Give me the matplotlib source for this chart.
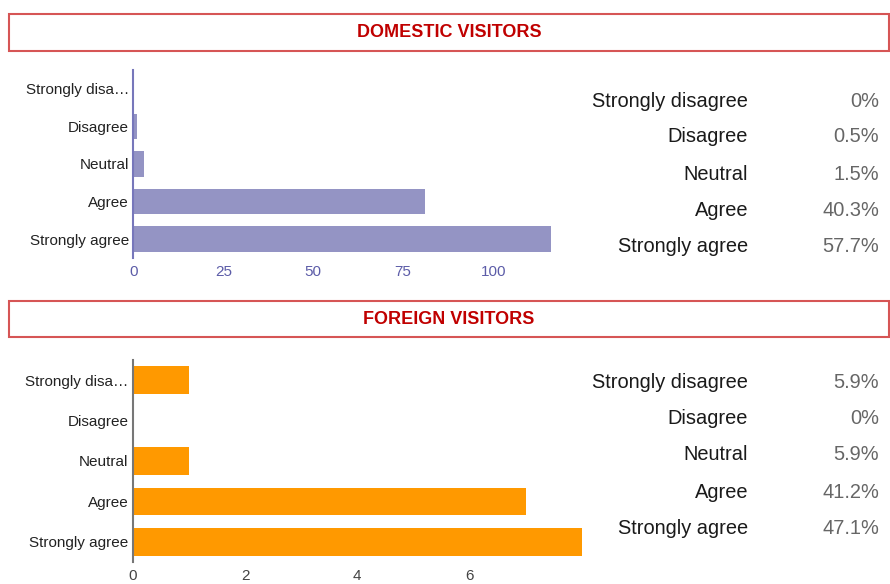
import matplotlib
matplotlib.use("Agg")
import matplotlib.pyplot as plt
from matplotlib.patches import Rectangle

categories = ["Strongly disagree", "Disagree", "Neutral", "Agree", "Strongly agree"]
tick_labels = ["Strongly disa\u2026", "Disagree", "Neutral", "Agree", "Strongly agree"]
domestic_counts = [0, 1, 3, 81, 116]
foreign_counts = [1, 0, 1, 7, 8]
domestic_pct = [0, 0.5, 1.5, 40.3, 57.7]
foreign_pct = [5.9, 0, 5.9, 41.2, 47.1]
domestic_ticks = [0, 25, 50, 75, 100]
foreign_ticks = [0, 2, 4, 6]
titles = ["DOMESTIC VISITORS", "FOREIGN VISITORS"]

W, H = 890, 584
fig = plt.figure(figsize=(W / 100, H / 100), dpi=100)
fig.patch.set_facecolor("white")

def fx(px):
    return px / W

def fy(py):
    return 1 - py / H

title_font = ["Liberation Sans Narrow", "Liberation Sans", "DejaVu Sans"]
text_font = ["Liberation Sans", "DejaVu Sans"]

def title_box(top, bottom, text):
    rect = Rectangle((fx(8.5), fy(bottom)), fx(889) - fx(8.5), fy(top) - fy(bottom),
                     transform=fig.transFigure, fill=False, edgecolor="#d65555",
                     linewidth=1.5)
    fig.add_artist(rect)
    fig.text(fx(449), (fy(top) + fy(bottom)) / 2, text, ha="center", va="center",
             fontsize=13, fontweight="bold", color="#c00000", family=title_font)

def panel(rect, counts, xmax, ticks, color, axis_color, tick_color):
    ax = fig.add_axes(rect)
    ypos = list(range(len(categories)))
    ax.barh(ypos, counts, height=0.68, color=color, edgecolor="none")
    ax.set_xlim(0, xmax)
    ax.set_ylim(len(categories) - 0.5, -0.5)
    ax.set_yticks(ypos)
    ax.set_yticklabels(tick_labels, family=text_font, fontsize=11, color="#222222")
    ax.set_xticks(ticks)
    ax.set_xticklabels([str(t) for t in ticks], family=text_font, fontsize=11,
                       color=tick_color)
    for s in ["top", "right", "bottom"]:
        ax.spines[s].set_visible(False)
    ax.spines["left"].set_color(axis_color)
    ax.spines["left"].set_linewidth(1.5)
    ax.tick_params(axis="both", length=0)
    ax.tick_params(axis="y", pad=3)
    ax.tick_params(axis="x", pad=5)
    ax.set_facecolor("none")
    return ax

def table(rows_y, pct):
    for cat, p, y in zip(categories, pct, rows_y):
        fig.text(fx(748), fy(y), cat, ha="right", va="center_baseline", fontsize=14.4,
                 color="#1a1a1a", family=text_font)
        s = "0%" if p == 0 else f"{p}%"
        fig.text(fx(879), fy(y), s, ha="right", va="center_baseline", fontsize=14.4,
                 color="#666666", family=text_font)

title_box(14, 51, titles[0])
title_box(301, 337, titles[1])

panel([fx(133.3), fy(258), fx(550.7) - fx(133.3), fy(70) - fy(258)],
      domestic_counts, max(domestic_counts), domestic_ticks,
      "#9494c4", "#7777bb", "#5c5ca8")
panel([fx(132.7), fy(562), fx(582) - fx(132.7), fy(360) - fy(562)],
      foreign_counts, max(foreign_counts), foreign_ticks,
      "#ff9900", "#777777", "#444444")

table([99, 135, 172, 208, 244], domestic_pct)
table([380, 417, 453, 490, 526], foreign_pct)

fig.savefig("out.png", dpi=100, facecolor="white")
